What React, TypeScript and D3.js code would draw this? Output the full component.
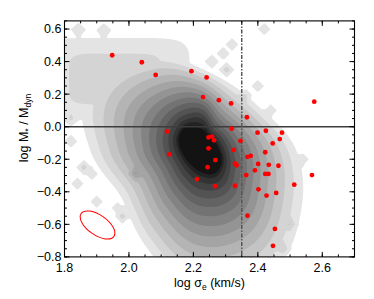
import React from 'react';
import * as d3 from 'd3';

// ---- measured galaxies (red points) ----
const logSigmaE = [
  1.948, 2.040, 2.083, 2.194, 2.241, 2.230, 2.279, 2.317, 2.366, 2.575,
  2.118, 2.247, 2.258, 2.264, 2.247, 2.319, 2.346, 2.399, 2.425, 2.475,
  2.468, 2.446, 2.325, 2.423, 2.125, 2.268, 2.244, 2.211, 2.267, 2.329,
  2.368, 2.378, 2.329, 2.334, 2.401, 2.434, 2.464, 2.391, 2.364, 2.423,
  2.433, 2.402, 2.427, 2.457, 2.513, 2.568, 2.368, 2.453, 2.447,
];
const logMassRatio = [
  0.439, 0.396, 0.318, 0.341, 0.303, 0.182, 0.163, 0.143, 0.058, 0.154,
  -0.029, -0.066, -0.061, -0.084, -0.133, -0.012, -0.087, -0.037, -0.025, -0.037,
  -0.076, -0.103, -0.143, -0.157, -0.170, -0.205, -0.249, -0.322, -0.365, -0.363,
  -0.185, -0.179, -0.226, -0.237, -0.229, -0.234, -0.240, -0.268, -0.297, -0.290,
  -0.290, -0.385, -0.423, -0.407, -0.356, -0.297, -0.547, -0.628, -0.732,
];

// ---- axes ----
const xDomain = [1.8, 2.7];
const yDomain = [-0.8, 0.65];
const xTickValues = [1.8, 2.0, 2.2, 2.4, 2.6];
const xTickLabels = ['1.8', '2.0', '2.2', '2.4', '2.6'];
const yTickValues = [-0.8, -0.6, -0.4, -0.2, 0.0, 0.2, 0.4, 0.6];
const yTickLabels = ['\u22120.8', '\u22120.6', '\u22120.4', '\u22120.2', '0.0', '0.2', '0.4', '0.6'];
const sigmaCut = 2.35;

// ---- background density of the comparison sample ----
// peak of the distribution (data units)
const densityPeakX = 2.221;
const densityPeakY = -0.143;
// radii of the band edges along rays every 30 deg (0 = right, clockwise on screen):
// core (darkest band edge), middle band edge, outermost band edge
const densityRayAngle = [0, 30, 60, 90, 120, 150, 180, 210, 240, 270, 300, 330];
const densityCoreRadius = [19.5, 25.1, 27.6, 21.8, 17.8, 17.1, 19.5, 25.1, 27.5, 21.8, 17.8, 17.1];
const densityMidRadius = [47, 57, 72, 70, 55, 47, 53, 60, 59, 53, 39, 40];
const densityEdgeRadius = [96, 117, 142, 142, 110, 92, 110, 130, 110, 82, 72, 75];
// flat upper-left tail
const plateauCx = 1.957, plateauCy = 0.293, plateauHx = 0.2, plateauHy = 0.218, plateauLevel = 1.7;
// isolated grid cells (diamonds)
const cellX = [1.843, 1.922, 2.42, 2.32, 2.293, 2.258, 2.303, 2.40, 2.363, 2.44, 2.54, 2.50, 2.48,
  1.82, 1.82, 1.86, 1.84, 1.885, 1.90, 1.965, 1.98, 2.02];
const cellY = [0.598, 0.594, 0.60, 0.505, 0.45, 0.40, 0.35, 0.25, 0.195, 0.10, -0.20, -0.60, -0.75,
  0.05, -0.09, -0.25, -0.35, -0.29, -0.46, -0.50, -0.55, -0.29];
const cellH = [1.3, 1.3, 1.3, 1.3, 1.3, 1.3, 2.2, 1.3, 1.3, 1.3, 1.3, 1.3, 1.3,
  1.3, 1.3, 2.2, 1.3, 1.3, 1.3, 1.3, 2.2, 1.8];
const contourLevels = d3.range(0.5, 14, 1);

const FONT = "'Liberation Sans', Arial, Helvetica, sans-serif";

function periodicInterp(arr: number[], deg: number) {
  const n = arr.length;
  const t = (((deg % 360) + 360) % 360) / (360 / n);
  const k = Math.floor(t);
  const f = t - k;
  const p0 = arr[(k - 1 + n) % n], p1 = arr[k % n], p2 = arr[(k + 1) % n], p3 = arr[(k + 2) % n];
  return 0.5 * ((2 * p1) + (-p0 + p2) * f + (2 * p0 - 5 * p1 + 4 * p2 - p3) * f * f +
    (-p0 + 3 * p1 - 3 * p2 + p3) * f * f * f);
}

export default function App() {
  const L = 64.5, R = 354.5, T = 20.9, B = 256.9;
  const x = d3.scaleLinear().domain(xDomain).range([L, R]);
  const y = d3.scaleLinear().domain(yDomain).range([B, T]);
  const kx = (R - L) / (xDomain[1] - xDomain[0]);
  const ky = (B - T) / (yDomain[1] - yDomain[0]);
  const pcx = x(densityPeakX), pcy = y(densityPeakY);

  const field = (px: number, py: number) => {
    const dx = px - pcx, dy = py - pcy;
    const d = Math.hypot(dx, dy);
    const ang = Math.atan2(dy, dx) * 180 / Math.PI;
    const C = periodicInterp(densityCoreRadius, ang);
    const M = periodicInterp(densityMidRadius, ang);
    const D = periodicInterp(densityEdgeRadius, ang);
    let f: number;
    if (d <= C) f = 13.5 + (C - d) * 0.2;
    else {
      const s = (d - C) / (D - C);
      const p = Math.log(0.5) / Math.log((M - C) / (D - C));
      f = 13.5 - 13 * Math.pow(s, p);
    }
    const qx = Math.abs((px - x(plateauCx)) / (plateauHx * kx));
    const qy = Math.abs((py - y(plateauCy)) / (plateauHy * ky));
    f = Math.max(f, plateauLevel / (1 + qx ** 6 + qy ** 6));
    for (let i = 0; i < cellX.length; i++) {
      const s = Math.abs(px - x(cellX[i])) / 10 + Math.abs(py - y(cellY[i])) / 10;
      if (s < 1) f = Math.max(f, 0) + cellH[i] * (1 - s);
    }
    return f;
  };

  const step = 1.5;
  const gx0 = L - 3, gy0 = T - 3;
  const nx = Math.ceil((R - L + 6) / step);
  const ny = Math.ceil((B - T + 6) / step);
  const values = new Array(nx * ny);
  for (let j = 0; j < ny; j++) {
    for (let i = 0; i < nx; i++) {
      values[j * nx + i] = field(gx0 + (i + 0.5) * step, gy0 + (j + 0.5) * step);
    }
  }
  const contours = d3.contours().size([nx, ny]).thresholds(contourLevels)(values);
  const gpath = d3.geoPath();
  const gray = (k: number) => {
    const g = Math.round(228 - k * 16.1);
    return `rgb(${g},${g},${g})`;
  };

  const xMinor = d3.range(0, 19).map((i) => 1.8 + i * 0.05);
  const yMinor = d3.range(0, 30).map((i) => -0.8 + i * 0.05);

  // error ellipse
  const eCx = x(1.9025), eCy = y(-0.604);

  return (
    <svg width={374} height={299} style={{ position: 'absolute', left: 0, top: 0, background: '#fff' }}
      fontFamily={FONT}>
      <defs>
        <clipPath id="plotclip">
          <rect x={L} y={T} width={R - L} height={B - T} />
        </clipPath>
      </defs>
      <rect x={0} y={0} width={374} height={299} fill="#fff" />
      <g clipPath="url(#plotclip)">
        <g transform={`translate(${gx0},${gy0}) scale(${step})`}>
          {contours.map((c, k) => (
            <path key={k} d={gpath(c as any) || ''} fill={gray(k)} stroke="none" />
          ))}
        </g>
        <line x1={L} x2={R} y1={y(0)} y2={y(0)} stroke="#3c3c3c" strokeWidth={1.4} />
        <line x1={x(sigmaCut)} x2={x(sigmaCut)} y1={T} y2={B} stroke="#555" strokeWidth={1.5}
          strokeDasharray="4,1.5,1.5,1.5" />
        <ellipse cx={eCx} cy={eCy} rx={20} ry={10} fill="none" stroke="#ff0000" strokeWidth={1}
          transform={`rotate(35 ${eCx} ${eCy})`} />
        {logSigmaE.map((s, i) => (
          <circle key={i} cx={x(s)} cy={y(logMassRatio[i])} r={2.4} fill="#ff0000" />
        ))}
      </g>
      {/* ticks */}
      <g stroke="#000" strokeWidth={1}>
        {xMinor.map((v, i) => (
          <g key={'xm' + i}>
            <line x1={x(v)} x2={x(v)} y1={B} y2={B - 2.5} />
            <line x1={x(v)} x2={x(v)} y1={T} y2={T + 2.5} />
          </g>
        ))}
        {xTickValues.map((v, i) => (
          <g key={'xM' + i}>
            <line x1={x(v)} x2={x(v)} y1={B} y2={B - 5} />
            <line x1={x(v)} x2={x(v)} y1={T} y2={T + 5} />
          </g>
        ))}
        {yMinor.map((v, i) => (
          <g key={'ym' + i}>
            <line x1={L} x2={L + 2.5} y1={y(v)} y2={y(v)} />
            <line x1={R} x2={R - 2.5} y1={y(v)} y2={y(v)} />
          </g>
        ))}
        {yTickValues.map((v, i) => (
          <g key={'yM' + i}>
            <line x1={L} x2={L + 5} y1={y(v)} y2={y(v)} />
            <line x1={R} x2={R - 5} y1={y(v)} y2={y(v)} />
          </g>
        ))}
      </g>
      <rect x={L} y={T} width={R - L} height={B - T} fill="none" stroke="#000" strokeWidth={1.1} />
      {/* tick labels */}
      <g fontSize={12.5} fill="#000">
        {xTickValues.map((v, i) => (
          <text key={'xl' + i} x={x(v)} y={272} textAnchor="middle">{xTickLabels[i]}</text>
        ))}
        {yTickValues.map((v, i) => (
          <text key={'yl' + i} x={61.5} y={y(v) + 4.4} textAnchor="end">{yTickLabels[i]}</text>
        ))}
      </g>
      {/* axis titles */}
      <text x={(L + R) / 2} y={287} textAnchor="middle" fontSize={12.5} fill="#000">
        log {'\u03c3'}<tspan fontSize={8.5} dy={3}>e</tspan><tspan dy={-3}> (km/s)</tspan>
      </text>
      <text transform={`translate(28,128) rotate(-90)`} textAnchor="middle" fontSize={12.5} fill="#000">
        log M<tspan fontSize={8.5} dy={3}>*</tspan><tspan dy={-3}> / M</tspan><tspan fontSize={8.5} dy={3}>dyn</tspan>
      </text>
    </svg>
  );
}
